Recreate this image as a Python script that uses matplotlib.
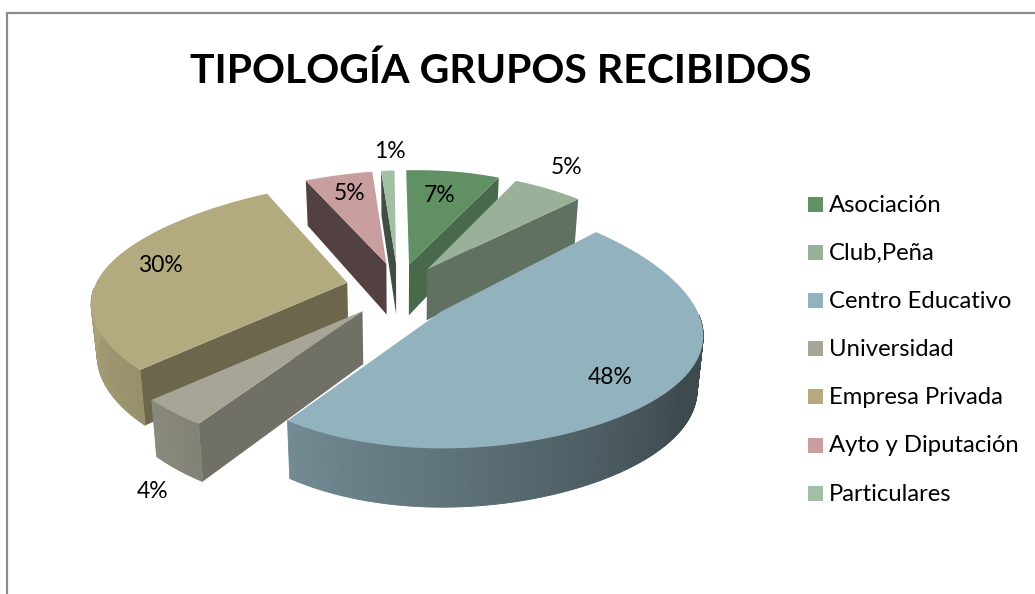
import numpy as np
import matplotlib
matplotlib.use("Agg")
import matplotlib.pyplot as plt
from matplotlib.collections import PolyCollection
from matplotlib.colors import to_rgb
from matplotlib.patches import Rectangle

plt.rcParams["font.family"] = ["Lato", "DejaVu Sans"]

########################################
# Data
########################################
title = "TIPOLOGÍA GRUPOS RECIBIDOS"
categories = ["Asociación", "Club,Peña", "Centro Educativo", "Universidad",
              "Empresa Privada", "Ayto y Diputación", "Particulares"]
values = [7, 5, 48, 4, 30, 5, 1]
colors = ["#619065", "#98b198", "#92b2bd", "#a6a596", "#b3ab7f", "#c99e9f", "#a2bea4"]
draw_order = [0, 6, 5, 1, 4, 3, 2]

########################################
# View of the 3D pie (pixels of the figure)
########################################
EXPLODE = 0.22
# cubic map from pie plane to pixels, calibrated against the picture
# terms: 1, y, y2, y3, x, xy, xy2, x2, x2y, x3
COEF_U = [398.76, -4.79, -1.21, 2.68, 241.44, -25.54, 2.0, 0.65, -0.01, 8.9]
COEF_V = [291.28, -129.85, 15.74, 7.73, 9.57, -2.5, -9.18, 7.39, 9.12, -5.19]

label_pos = [(440, 195), (567, 168), (610, 377), (153, 492), (160, 265), (350, 193), (390, 151)]


def project(x, y, bottom=False):
    t = [1, y, y**2, y**3, x, x * y, x * y**2, x**2, x**2 * y, x**3]
    u = float(np.dot(COEF_U, t))
    v = float(np.dot(COEF_V, t))
    if bottom:
        return 400 + (u - 400) * 0.98, v + 52 - 6 * y
    return u, v


def shade(color, f):
    return tuple(c * f for c in to_rgb(color))


def wall_factor(deg):
    return np.interp(deg, [120, 216, 235, 290, 360], [0.42, 0.78, 0.85, 1, 1])


def face_factor(normal):
    return np.interp(normal % 360, [115, 140, 250], [0.74, 0.6, 0.41])


fig = plt.figure(figsize=(10.35, 5.94), dpi=100)
ax = fig.add_axes([0, 0, 1, 1])
ax.set_xlim(0, 1035)
ax.set_ylim(594, 0)
ax.axis("off")

# frame, only left and top show up in the crop
ax.plot([7, 7, 1035], [594, 12.5, 12.5], color="#8c8c8c", lw=1.6, solid_joinstyle="miter")

ax.text(501, 83, title, ha="center", va="baseline", fontsize=29.5, fontweight="bold", color="black")

########################################
# Wedges, painted back to front
########################################
ends = np.cumsum(values) / sum(values) * 360
starts = ends - np.array(values) / sum(values) * 360

for order, i in enumerate(draw_order):
    z = 2 + order
    a0, a1 = starts[i], ends[i]
    mid = np.radians((a0 + a1) / 2)
    ex, ey = EXPLODE * np.sin(mid), EXPLODE * np.cos(mid)
    arc = np.linspace(a0, a1, max(int(a1 - a0) * 2, 4))
    arc_x = ex + np.sin(np.radians(arc))
    arc_y = ey + np.cos(np.radians(arc))

    # cut faces
    for normal, idx in [(a0 - 90, 0), (a1 + 90, -1)]:
        if np.cos(np.radians(normal)) < -0.01:
            poly = [project(ex, ey), project(arc_x[idx], arc_y[idx]),
                    project(arc_x[idx], arc_y[idx], True), project(ex, ey, True)]
            ax.add_patch(plt.Polygon(poly, closed=True, fc=shade(colors[i], face_factor(normal)),
                                     ec="none", zorder=z))

    # outer wall, one small quad per step so the shading can change
    quads, cols = [], []
    for k in range(len(arc) - 1):
        if np.cos(np.radians((arc[k] + arc[k + 1]) / 2)) < 0.05:
            quads.append([project(arc_x[k], arc_y[k]), project(arc_x[k + 1], arc_y[k + 1]),
                          project(arc_x[k + 1], arc_y[k + 1], True), project(arc_x[k], arc_y[k], True)])
            cols.append(shade(colors[i], wall_factor(arc[k])))
    if quads:
        ax.add_collection(PolyCollection(quads, facecolors=cols, edgecolors=cols, linewidths=0.6, zorder=z))

    # top
    top = [project(ex, ey)] + [project(x, y) for x, y in zip(arc_x, arc_y)]
    ax.add_patch(plt.Polygon(top, closed=True, fc=colors[i], ec="none", zorder=z + 0.5))

for v, (x, y) in zip(values, label_pos):
    ax.text(x, y, f"{v}%", ha="center", va="center", fontsize=16.5, color="black", zorder=20)

########################################
# Legend
########################################
for k, (name, col) in enumerate(zip(categories, colors)):
    y = 204 + k * 48.2
    ax.add_patch(Rectangle((808, y - 7.5), 15, 15, fc=col, ec="none", zorder=20))
    ax.text(829, y + 1, name, ha="left", va="center", fontsize=17.2, color="black", zorder=20)

fig.savefig("out.png", dpi=100)
